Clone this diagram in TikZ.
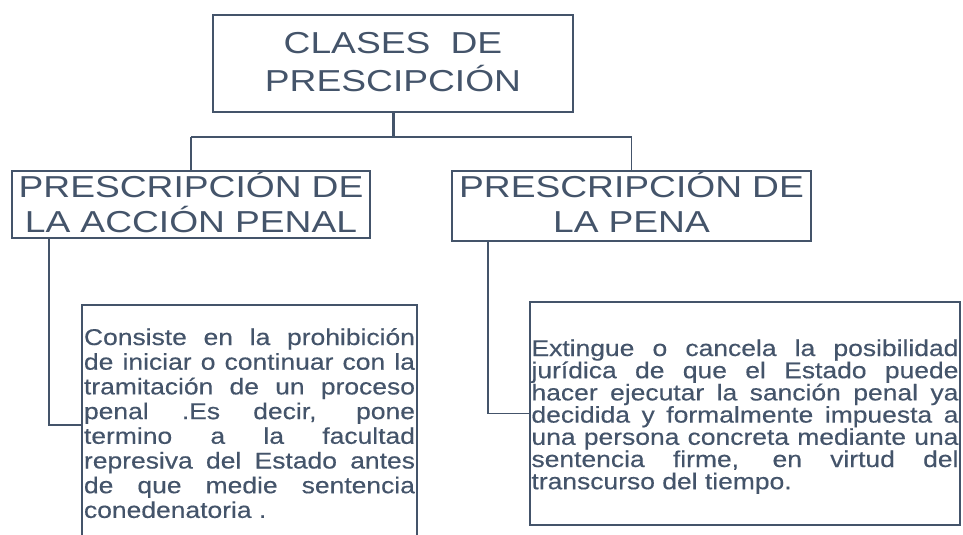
\documentclass[tikz,border=0pt]{standalone}
\usepackage{fontspec}
\setmainfont{Liberation Sans}
\newfontfamily\titulofont[FakeStretch=1.227]{Liberation Sans}
\newfontfamily\textofont[FakeStretch=1.16,FakeBold=0.4]{Liberation Sans}
\usetikzlibrary{positioning}
\definecolor{tinta}{HTML}{44546A}
\tolerance=10000
\hbadness=10000

\begin{document}
\begin{tikzpicture}[
    node distance=59pt, % distancia entre niveles
    caja/.style={rectangle, draw=tinta, line width=1.3pt, text=tinta, inner sep=0pt, outer sep=0pt, align=center}, % estilo de las cajas
    titulo/.style={caja, font=\titulofont\fontsize{30.3}{35.5}\selectfont}, % cajas de encabezado
    texto/.style={caja, align=justify, font=\textofont\fontsize{22.8}{24.7}\selectfont}, % cajas de texto
    linea/.style={draw=tinta, line width=1.3pt}, % conectores
    tronco/.style={draw=tinta, line width=3pt} % conector principal
    ]

    \useasboundingbox (0,0) rectangle (963pt,-535pt);

    % Caja principal
    \node[titulo, text width=360pt, text height=38pt, text depth=59pt, font=\titulofont\fontsize{30.3}{38}\selectfont, anchor=north] (title) at (393pt,-15pt) {CLASES\ \ DE\\PRESCIPCIÓN};

    % Clases
    \node[titulo, text width=358pt, text height=26pt, text depth=41pt, below=of title, xshift=-202pt] (accion) {PRESCRIPCIÓN DE\\LA ACCIÓN PENAL};
    \node[titulo, text width=359pt, text height=26pt, text depth=44pt, below=of title, xshift=238.5pt] (pena) {PRESCRIPCIÓN DE\\LA PENA};

    % Descripciones
    \node[texto, text width=331pt, inner xsep=2pt, text height=40pt, text depth=200pt, below=67pt of accion, xshift=58.5pt] (accdesc) {Consiste en la prohibición\linebreak
        de iniciar o continuar con la\linebreak
        tramitación de un proceso\linebreak
        penal .Es decir, pone\linebreak
        termino a la facultad\linebreak
        represiva del Estado antes\linebreak
        de que medie sentencia\linebreak
        conedenatoria .};
    \node[texto, text width=427pt, inner xsep=1.5pt, text height=54pt, text depth=169pt, font=\textofont\fontsize{22.8}{22.2}\selectfont, below=61pt of pena, xshift=113.5pt] (penadesc) {Extingue o cancela la posibilidad\linebreak
        jurídica de que el Estado puede\linebreak
        hacer ejecutar la sanción penal ya\linebreak
        decidida y formalmente impuesta a\linebreak
        una persona concreta mediante una\linebreak
        sentencia firme, en virtud del\linebreak
        transcurso del tiempo.};

    % Conectores
    \coordinate[below=25pt of title] (ramal);
    \draw[tronco] (title) -- (ramal);
    \draw[linea] (ramal -| accion) -- (ramal -| pena);
    \draw[linea] (ramal -| accion) -- (accion);
    \draw[linea] (ramal -| pena) -- (pena);

    \draw[linea] ([xshift=-142pt]accion.south) |- (accdesc.west);
    \draw[linea] ([xshift=-143.5pt]pena.south) |- (penadesc.west);

\end{tikzpicture}
\end{document}
